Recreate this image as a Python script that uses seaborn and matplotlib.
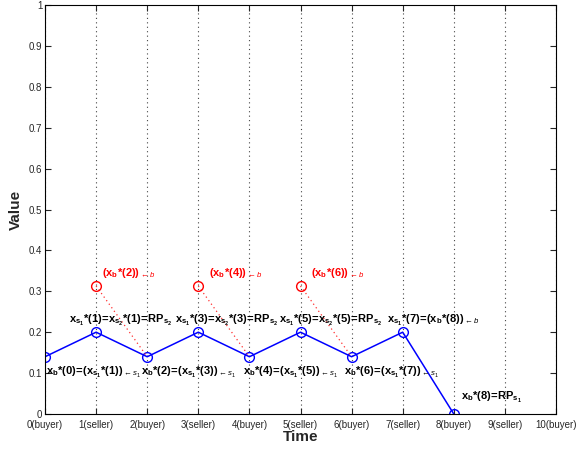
import numpy as np
import pandas as pd
import matplotlib
matplotlib.use('Agg')
import matplotlib.pyplot as plt
import seaborn as sns

# chart data
time_steps = [0, 1, 2, 3, 4, 5, 6, 7, 8]
values = [0.14, 0.2, 0.14, 0.2, 0.14, 0.2, 0.14, 0.2, 0.0]
red_times = [1, 3, 5]
red_values = [0.313, 0.313, 0.313]
red_targets = [2, 4, 6]
tick_labels = ['0(buyer)', '1(seller)', '2(buyer)', '3(seller)', '4(buyer)', '5(seller)',
               '6(buyer)', '7(seller)', '8(buyer)', '9(seller)', '10(buyer)']

# "\!=\!" and "{*}" keep mathtext from padding the operators
EQ = r'\!=\!'
black_labels = [
    (0.02, 0.095, r'$\mathbf{x_b{*}(0)EQ(x_{s_1}{*}(1))}_{\leftarrow s_1}$'),
    (0.47, 0.222, r'$\mathbf{x_{s_1}{*}(1)EQx_{s_2}{*}(1)EQRP_{s_2}}$'),
    (1.88, 0.095, r'$\mathbf{x_b{*}(2)EQ(x_{s_1}{*}(3))}_{\leftarrow s_1}$'),
    (2.54, 0.222, r'$\mathbf{x_{s_1}{*}(3)EQx_{s_2}{*}(3)EQRP_{s_2}}$'),
    (3.87, 0.095, r'$\mathbf{x_b{*}(4)EQ(x_{s_1}{*}(5))}_{\leftarrow s_1}$'),
    (4.58, 0.222, r'$\mathbf{x_{s_1}{*}(5)EQx_{s_2}{*}(5)EQRP_{s_2}}$'),
    (5.85, 0.095, r'$\mathbf{x_b{*}(6)EQ(x_{s_1}{*}(7))}_{\leftarrow s_1}$'),
    (6.69, 0.222, r'$\mathbf{x_{s_1}{*}(7)EQ(x_b{*}(8))}_{\leftarrow b}$'),
    (8.14, 0.034, r'$\mathbf{x_b{*}(8)EQRP_{s_1}}$'),
]
red_labels = [
    (1.12, 0.337, r'$\mathbf{(x_b{*}(2))}_{\leftarrow b}$'),
    (3.20, 0.337, r'$\mathbf{(x_b{*}(4))}_{\leftarrow b}$'),
    (5.21, 0.337, r'$\mathbf{(x_b{*}(6))}_{\leftarrow b}$'),
]

sns.set_style('white')
plt.rcParams['font.family'] = ['Liberation Sans', 'DejaVu Sans']
plt.rcParams['mathtext.fontset'] = 'custom'
plt.rcParams['mathtext.rm'] = 'Liberation Sans'
plt.rcParams['mathtext.bf'] = 'Liberation Sans:bold'
plt.rcParams['mathtext.it'] = 'Liberation Sans:italic'

fig = plt.figure(figsize=(5.82, 4.5), dpi=100)
ax = fig.add_axes([45 / 582, 36 / 450, 511 / 582, 409 / 450])

df = pd.DataFrame({'Time': time_steps, 'Value': values})
sns.lineplot(data=df, x='Time', y='Value', ax=ax, color='#0000ff', linewidth=1.1,
             marker='o', markersize=7, markerfacecolor='none',
             markeredgecolor='#0000ff', markeredgewidth=1.0)

# red dotted connectors and open red circles
for xr, yr, xt in zip(red_times, red_values, red_targets):
    ax.plot([xr, xt], [yr, values[time_steps.index(xt)]], color='#ff3030',
            linestyle=(0, (1, 2.5)), linewidth=0.9)
ax.plot(red_times, red_values, linestyle='none', marker='o', markersize=7,
        markerfacecolor='none', markeredgecolor='#ff0000', markeredgewidth=1.0)

for x, y, s in black_labels:
    ax.text(x, y, s.replace('EQ', EQ), fontsize=8, color='black', va='baseline', ha='left')
for x, y, s in red_labels:
    ax.text(x, y, s, fontsize=8, color='#ff0000', va='baseline', ha='left')

ax.set_xlim(0, 10)
ax.set_ylim(0, 1)
ax.set_xticks(range(11))
ax.set_xticklabels(tick_labels, fontsize=7)
ax.set_yticks(np.arange(0, 1.01, 0.1))
ax.set_yticklabels(['0', '0.1', '0.2', '0.3', '0.4', '0.5', '0.6', '0.7', '0.8', '0.9', '1'],
                   fontsize=7)
ax.tick_params(direction='in', length=4, width=0.8, top=True, right=True,
               bottom=True, left=True, pad=2)
ax.tick_params(axis='x', pad=4)
ax.xaxis.grid(True, linestyle=(0, (1, 3)), color='#444444', linewidth=0.8)
ax.yaxis.grid(False)
for sp in ax.spines.values():
    sp.set_color('black')
    sp.set_linewidth(0.8)

ax.set_xlabel('Time', fontsize=11, fontweight='bold', labelpad=0)
ax.set_ylabel('Value', fontsize=11, fontweight='bold', labelpad=4)

plt.savefig('out.png', dpi=100)
plt.close()
